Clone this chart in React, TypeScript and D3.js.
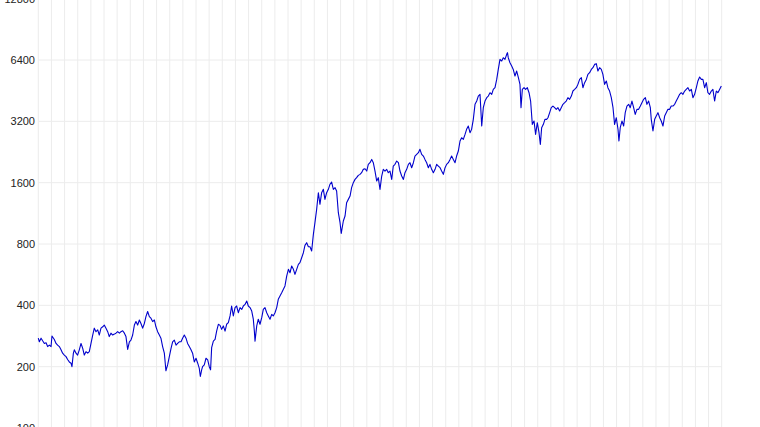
import React from "react";
import * as d3 from "d3";

const years: number[] = [
  1965.00,1965.08,1965.21,1965.33,1965.46,1965.59,1965.71,1965.84,1965.97,1966.04,1966.22,1966.35,1966.47,1966.60,1966.73,1966.85,1966.98,1967.11,1967.23,1967.36,1967.49,1967.56,1967.67,1967.74,1967.87,1967.99,1968.12,1968.25,1968.38,1968.50,1968.63,1968.76,1968.88,1969.01,1969.14,1969.26,1969.39,1969.52,1969.64,1969.77,1969.90,1970.02,1970.15,1970.28,1970.40,1970.53,1970.66,1970.79,1970.91,1971.04,1971.17,1971.29,1971.42,1971.55,1971.67,1971.80,1971.93,1972.05,1972.18,1972.31,1972.43,1972.56,1972.69,1972.81,1972.94,1973.07,1973.19,1973.32,1973.45,1973.57,1973.70,1973.83,1973.95,1974.08,1974.21,1974.33,1974.46,1974.59,1974.71,1974.84,1974.97,1975.10,1975.22,1975.35,1975.48,1975.60,1975.73,1975.86,1975.98,1976.11,1976.24,1976.36,1976.49,1976.62,1976.74,1976.87,1977.00,1977.13,1977.25,1977.33,1977.43,1977.50,1977.63,1977.76,1977.89,1978.01,1978.11,
  1978.19,1978.32,1978.45,1978.57,1978.70,1978.83,1978.95,1979.08,1979.21,1979.33,1979.46,1979.59,1979.71,1979.84,1979.97,1980.09,1980.22,1980.35,1980.48,1980.60,1980.73,1980.86,1980.98,1981.11,1981.24,1981.36,1981.44,1981.49,1981.62,1981.74,1981.87,1982.00,1982.12,1982.25,1982.38,1982.50,1982.63,1982.76,1982.88,1983.01,1983.14,1983.26,1983.39,1983.52,1983.64,1983.77,1983.90,1984.03,1984.15,1984.28,1984.41,1984.53,1984.66,1984.79,1984.91,1985.04,1985.17,1985.29,1985.42,1985.55,1985.67,1985.80,1985.93,1986.05,1986.18,1986.31,1986.43,1986.56,1986.69,1986.81,1986.94,1987.07,1987.19,1987.32,1987.45,1987.58,1987.70,1987.83,1987.96,1988.05,1988.21,1988.34,1988.46,1988.59,1988.72,1988.84,1988.97,1989.10,1989.22,1989.35,1989.48,1989.60,1989.73,1989.86,1989.99,1990.11,1990.24,1990.37,1990.49,
  1990.62,1990.75,1990.87,1991.00,1991.13,1991.25,1991.38,1991.51,1991.63,1991.76,1991.89,1992.01,1992.14,1992.27,1992.40,1992.52,1992.65,1992.78,1992.90,1993.03,1993.16,1993.28,1993.41,1993.54,1993.66,1993.79,1993.92,1994.04,1994.17,1994.30,1994.42,1994.55,1994.68,1994.80,1994.93,1995.06,1995.19,1995.31,1995.44,1995.57,1995.69,1995.82,1995.95,1996.07,1996.20,1996.33,1996.45,1996.58,1996.71,1996.83,1996.96,1997.09,1997.21,1997.34,1997.47,1997.59,1997.72,1997.85,1997.97,1998.10,1998.23,1998.36,1998.48,1998.61,1998.74,1998.86,1998.99,1999.12,1999.24,1999.37,1999.50,1999.62,1999.75,1999.88,2000.00,2000.13,2000.26,2000.38,2000.51,2000.64,2000.70,2000.76,2000.89,2001.02,2001.14,2001.27,2001.40,2001.53,2001.65,2001.73,2001.83,2001.96,2002.08,2002.21,2002.34,2002.46,2002.59,2002.72,2002.84,2002.97,2003.10,2003.20,2003.30,2003.43,2003.55,2003.68,
  2003.78,2003.91,2004.03,2004.16,2004.29,2004.41,2004.54,2004.67,2004.79,2004.92,2005.05,2005.17,2005.30,2005.43,2005.56,2005.68,2005.81,2005.94,2006.06,2006.19,2006.32,2006.44,2006.57,2006.70,2006.82,2006.95,2007.08,2007.20,2007.33,2007.46,2007.58,2007.71,2007.84,2007.96,2008.09,2008.22,2008.34,2008.47,2008.60,2008.73,2008.85,2008.98,2009.11,2009.18,2009.28,2009.41,2009.54,2009.66,2009.79,2009.92,2010.04,2010.17,2010.30,2010.42,2010.55,2010.68,2010.81,2010.93,2011.06,2011.19,2011.31,2011.44,2011.57,2011.64,2011.77,2011.90,2012.02,2012.15,2012.28,2012.40,2012.53,2012.66,2012.78,2012.91,2013.04,2013.16,2013.29,2013.42,2013.54,2013.67,2013.80,2013.92,2014.05,2014.18,2014.30,2014.43,2014.56,2014.69,2014.81,2014.94,2015.07,2015.19,2015.32,2015.45,2015.57,2015.70,2015.83,2015.95,2016.08,2016.21,2016.33,2016.46,2016.59,2016.71,2016.84,2016.97
];

const values: number[] = [
  276,265,276,268,260,262,251,255,251,283,272,260,255,251,242,233,228,224,217,211,208,200,233,242,233,228,242,260,246,228,237,233,237,260,286,309,297,303,286,309,314,320,309,297,281,292,286,289,292,297,292,297,300,292,281,243,265,270,286,320,333,320,339,326,309,326,352,373,352,346,333,339,314,297,286,276,251,233,191,204,224,246,265,270,255,260,265,265,276,286,276,260,251,242,233,211,220,208,196,179,193,200,204,220,216,200,193,
  248,267,272,299,323,319,305,317,299,323,329,355,397,355,390,397,368,390,382,397,404,420,397,390,375,342,299,267,317,342,323,348,382,390,368,355,342,361,355,368,390,428,444,461,479,498,557,601,578,624,601,568,601,636,648,685,725,788,812,776,776,739,892,1018,1184,1429,1253,1429,1484,1325,1429,1484,1570,1612,1484,1512,1456,1140,1018,902,1038,1098,1277,1325,1376,1512,1600,1661,1693,1738,1758,1791,1860,1874,1825,1968,2005,2082,2005,
  1825,1630,1693,1484,1725,1860,1825,1860,1791,1825,1661,1931,1968,2044,2005,1825,1725,1661,1791,1860,1968,2005,1895,2005,2162,2204,2245,2332,2204,2162,2082,2005,1895,1968,1860,1791,1860,1968,1931,1895,1825,1758,1895,1968,2005,2082,2162,2082,2005,2162,2288,2562,2660,2611,2762,2923,3035,2815,2923,3273,3879,4026,4259,4342,3035,3735,4026,4182,4259,4423,4342,4592,4681,5142,5757,6448,6328,6570,6448,6825,6954,6570,6208,5981,5757,5341,5652,5242,4861,3735,4592,4681,4592,4681,4423,4026,3093,3212,2762,3152,2815,2467,2979,3093,3273,3273,
  3334,3530,3735,3805,3735,3665,3735,3597,3735,3879,3952,4026,4182,4103,4259,4509,4592,4681,4861,5142,5242,4681,4954,5142,5443,5549,5757,5869,6093,6141,5652,5869,5757,5443,4861,5050,4681,4509,4182,3735,3093,3334,2925,2562,2979,3212,3035,3530,3805,3879,3735,4026,3735,3463,3665,3665,3805,3952,4103,4182,3879,4026,3735,3273,2870,3273,3398,3530,3334,3212,3035,3398,3530,3665,3665,3805,3805,3879,4026,4182,4342,4423,4342,4509,4592,4681,4509,4592,4182,4342,4681,5050,5280,5142,5142,4681,4954,4423,4342,4509,4592,4026,4509,4423,4592,4771
];

const yTicks: number[] = [100, 200, 400, 800, 1600, 3200, 6400, 12800];
const yearStart = 1965;
const yearEnd = 2017;

export default function App() {
  const W = 760;
  const H = 427;
  const x = d3.scaleLinear().domain([yearStart, yearEnd]).range([38.3, 721.7]);
  const y = d3.scaleLog().base(2).domain([100, 12800]).range([428, -1.3]);
  const data = years.map((yr, i) => ({ yr, v: values[i] }));
  const line = d3
    .line<{ yr: number; v: number }>()
    .x((d) => x(d.yr))
    .y((d) => y(d.v));
  const gridYears = d3.range(yearStart, yearEnd + 1);
  return (
    <svg
      width={W}
      height={H}
      style={{ position: "absolute", left: 0, top: 0, background: "#fff" }}
    >
      <g>
        {gridYears.map((g) => (
          <line
            key={"v" + g}
            x1={x(g)}
            x2={x(g)}
            y1={y(12800)}
            y2={y(100)}
            stroke="#ececec"
            strokeWidth={1}
          />
        ))}
        {yTicks.map((t) => (
          <line
            key={"h" + t}
            x1={x(yearStart)}
            x2={x(yearEnd)}
            y1={y(t)}
            y2={y(t)}
            stroke="#ececec"
            strokeWidth={1}
          />
        ))}
      </g>
      <g>
        {yTicks.map((t) => (
          <text
            key={"t" + t}
            x={35}
            y={y(t)}
            dy="0.35em"
            textAnchor="end"
            fontFamily="'Liberation Sans', Arial, sans-serif"
            fontSize={11}
            fill="#222"
          >
            {t}
          </text>
        ))}
      </g>
      <path d={line(data) || ""} fill="none" stroke="#0000cc" strokeWidth={1.1} strokeLinejoin="round" />
    </svg>
  );
}
